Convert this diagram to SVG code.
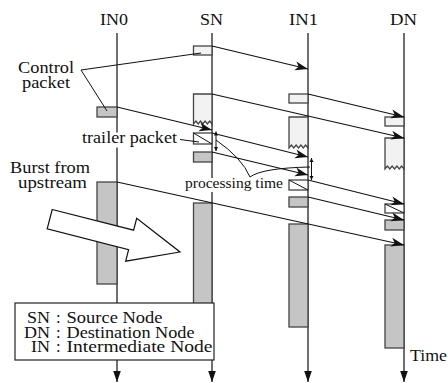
<svg xmlns="http://www.w3.org/2000/svg" width="448" height="383" viewBox="0 0 448 383">
<style>
text{font-family:"Liberation Serif","Times New Roman",serif;font-size:16.5px;fill:#111}
.axis{stroke:#222;stroke-width:1.3;fill:none}
.lt{fill:#f2f2f2;stroke:#444;stroke-width:1.3}
.gr{fill:#c5c5c5;stroke:#444;stroke-width:1.3}
.tr{fill:#fff;stroke:#444;stroke-width:1.3}
.cn{stroke:#111;stroke-width:1.2;fill:none}
.thin{stroke:#111;stroke-width:1;fill:none}
.mid{text-anchor:middle}
</style>
<defs>
  <marker id="ah" markerUnits="userSpaceOnUse" viewBox="-14 -5 15 10" refX="0" refY="0" markerWidth="15" markerHeight="10" orient="auto">
    <path d="M0,0 L-13,-4.5 L-9.5,0 L-13,4.5 Z" fill="#111"/>
  </marker>
  <marker id="tip" markerUnits="userSpaceOnUse" viewBox="-12 -5 13 10" refX="0" refY="0" markerWidth="13" markerHeight="10" orient="auto">
    <path d="M0,0 L-11,-3.8 L-11,3.8 Z" fill="#111"/>
  </marker>
  <marker id="sm" markerUnits="userSpaceOnUse" viewBox="-5 -3 6 6" refX="0" refY="0" markerWidth="6" markerHeight="6" orient="auto-start-reverse">
    <path d="M0,0 L-4,-2 L-4,2 Z" fill="#111"/>
  </marker>
</defs>

<rect width="448" height="383" fill="#fff"/>

<!-- timeline IN0 -->
<g id="IN0">
  <text class="mid" x="114" y="25" textLength="28" lengthAdjust="spacingAndGlyphs">IN0</text>
  <line class="axis" x1="117" y1="33" x2="117" y2="382" marker-end="url(#tip)"/>
  <rect class="gr" x="97" y="107" width="20" height="10"/>
  <rect class="gr" x="97" y="182" width="20" height="102"/>
</g>

<!-- timeline SN -->
<g id="SN">
  <text class="mid" x="211.5" y="25" textLength="23" lengthAdjust="spacingAndGlyphs">SN</text>
  <line class="axis" x1="212" y1="33" x2="212" y2="382" marker-end="url(#tip)"/>
  <rect class="lt" x="193.5" y="46" width="18.5" height="9"/>
  <path class="lt" d="M193.5,94 H212 V124 L209.7,121 L207.4,124 L205.1,121 L202.8,124 L200.5,121 L198.2,124 L195.9,121 L193.5,124 Z"/>
  <rect class="tr" x="193.5" y="133" width="18.5" height="11"/>
  <line class="thin" x1="193.5" y1="133" x2="212" y2="144"/>
  <rect class="gr" x="193.5" y="152" width="18.5" height="10"/>
  <rect class="gr" x="193.5" y="203" width="18.5" height="104"/>
</g>

<!-- timeline IN1 -->
<g id="IN1">
  <text class="mid" x="303.5" y="25" textLength="29" lengthAdjust="spacingAndGlyphs">IN1</text>
  <line class="axis" x1="308" y1="33" x2="308" y2="382" marker-end="url(#tip)" stroke="#444" stroke-width="1.6"/>
  <rect class="lt" x="289" y="94" width="19" height="9"/>
  <path class="lt" d="M289,117 H308 V148 L305.6,145 L303.3,148 L300.9,145 L298.5,148 L296.1,145 L293.8,148 L291.4,145 L289,148 Z"/>
  <rect class="tr" x="289" y="180" width="19" height="10"/>
  <line class="thin" x1="289" y1="180" x2="308" y2="190"/>
  <rect class="gr" x="289" y="197" width="19" height="10"/>
  <rect class="gr" x="289" y="224" width="19" height="103"/>
</g>

<!-- timeline DN -->
<g id="DN">
  <text class="mid" x="403.5" y="25" textLength="27" lengthAdjust="spacingAndGlyphs">DN</text>
  <line class="axis" x1="404" y1="33" x2="404" y2="382" marker-end="url(#tip)"/>
  <rect class="lt" x="385" y="117" width="19" height="9"/>
  <path class="lt" d="M385,138 H404 V169 L401.6,166 L399.3,169 L396.9,166 L394.5,169 L392.1,166 L389.8,169 L387.4,166 L385,169 Z"/>
  <rect class="tr" x="385" y="204" width="19" height="9"/>
  <line class="thin" x1="385" y1="204" x2="404" y2="213"/>
  <rect class="gr" x="385" y="220" width="19" height="10"/>
  <rect class="gr" x="385" y="245" width="19" height="103"/>
  <text x="410" y="361" textLength="37" lengthAdjust="spacingAndGlyphs">Time</text>
</g>

<!-- packet transmissions -->
<g id="connectors">
  <line class="cn" x1="212" y1="46" x2="308" y2="69" marker-end="url(#ah)"/>
  <line class="cn" x1="117" y1="107" x2="212" y2="130" marker-end="url(#ah)"/>
  <line class="cn" x1="212" y1="94" x2="404" y2="138" marker-end="url(#ah)"/>
  <line class="cn" x1="308" y1="94" x2="404" y2="117" marker-end="url(#ah)"/>
  <line class="cn" x1="212" y1="133" x2="308" y2="157" marker-end="url(#ah)"/>
  <line class="cn" x1="212" y1="152" x2="308" y2="175" marker-end="url(#ah)"/>
  <line class="cn" x1="308" y1="180" x2="404" y2="204" marker-end="url(#ah)"/>
  <line class="cn" x1="308" y1="197" x2="404" y2="220" marker-end="url(#ah)"/>
  <line class="cn" x1="117" y1="182" x2="404" y2="245" marker-end="url(#ah)"/>
  <!-- processing time spans -->
  <line class="thin" x1="216" y1="131.5" x2="216" y2="151" marker-start="url(#sm)" marker-end="url(#sm)"/>
  <line class="thin" x1="311.5" y1="158" x2="311.5" y2="180" marker-start="url(#sm)" marker-end="url(#sm)"/>
</g>

<!-- annotations -->
<g id="labels">
  <text class="mid" x="46" y="73" textLength="56" lengthAdjust="spacingAndGlyphs">Control</text>
  <text class="mid" x="46" y="87.5" textLength="48" lengthAdjust="spacingAndGlyphs">packet</text>
  <polyline class="thin" points="201,53 81,70 107,111"/>

  <rect x="80" y="132.5" width="99" height="15" fill="#fff"/>
  <text x="82" y="143" textLength="95" lengthAdjust="spacingAndGlyphs">trailer packet</text>
  <line class="thin" x1="180" y1="139.5" x2="199" y2="142"/>

  <rect x="184" y="178" width="101" height="14" fill="#fff"/>
  <text x="185" y="188" style="font-size:15px" textLength="98" lengthAdjust="spacingAndGlyphs">processing time</text>
  <path class="thin" d="M216,140 Q242,158 250,177 Q262,168 310,167"/>

  <text class="mid" x="50" y="173" textLength="80" lengthAdjust="spacingAndGlyphs">Burst from</text>
  <text class="mid" x="52.5" y="187.5" textLength="69" lengthAdjust="spacingAndGlyphs">upstream</text>

  <polygon points="52.2,209.5 133.6,230.2 136.7,218.3 180,252 125.7,261.2 128.6,249.6 47.2,228.9" fill="#fff" stroke="#111" stroke-width="1.2"/>
</g>

<!-- legend -->
<g id="legend">
  <rect x="15" y="303" width="199" height="57" fill="#fff" stroke="#222" stroke-width="1.2"/>
  <text x="50" y="323.3" text-anchor="end" textLength="23" lengthAdjust="spacingAndGlyphs">SN</text>
  <text class="mid" x="58.3" y="323.3">:</text>
  <text x="66.5" y="323.3" textLength="96" lengthAdjust="spacingAndGlyphs">Source Node</text>
  <text x="50" y="337.8" text-anchor="end" textLength="26" lengthAdjust="spacingAndGlyphs">DN</text>
  <text class="mid" x="58.3" y="337.8">:</text>
  <text x="66.5" y="337.8" textLength="128" lengthAdjust="spacingAndGlyphs">Destination Node</text>
  <text x="50" y="352.3" text-anchor="end" textLength="19" lengthAdjust="spacingAndGlyphs">IN</text>
  <text class="mid" x="58.3" y="352.3">:</text>
  <text x="66.5" y="352.3" textLength="146" lengthAdjust="spacingAndGlyphs">Intermediate Node</text>
</g>
</svg>
